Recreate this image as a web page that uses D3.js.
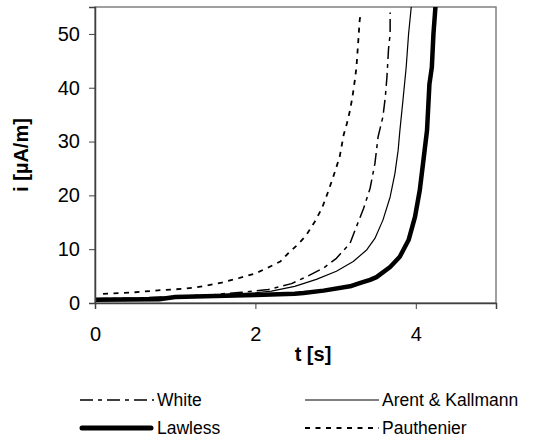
<!DOCTYPE html>
<html>
<head>
<meta charset="utf-8">
<script src="https://cdn.jsdelivr.net/npm/d3@7"></script>
<style>
body { margin: 0; background: #fff; }
text { font-family: "Liberation Sans", Arial, sans-serif; fill: #000; }
</style>
</head>
<body>
<script>
// series: t [s] and i [µA/m]
var tWhite = [0, 0.5, 1.0, 1.5, 1.83, 2.16, 2.45, 2.64, 2.85, 3.01, 3.18, 3.26, 3.35, 3.43, 3.49, 3.53, 3.59, 3.62, 3.64, 3.66, 3.68, 3.68];
var iWhite = [0.8, 0.9, 1.2, 1.6, 2.0, 2.5, 3.6, 4.9, 6.5, 8.3, 11.1, 14.2, 17.6, 21.3, 25.9, 30.9, 34.6, 38.3, 42, 47.2, 50, 54];

var tArent = [0, 0.5, 1.0, 1.5, 2.0, 2.2, 2.49, 2.76, 3.01, 3.22, 3.39, 3.49, 3.59, 3.68, 3.74, 3.78, 3.80, 3.84, 3.88, 3.91, 3.95];
var iArent = [0.8, 0.9, 1.2, 1.5, 1.9, 2.2, 3.1, 4.4, 5.9, 7.7, 9.9, 12.0, 15.4, 19.7, 24.1, 28.4, 31.8, 37.7, 43.8, 50, 56];

var tLawless = [0, 0.8, 1.0, 1.5, 2.0, 2.49, 2.6, 2.85, 3.18, 3.30, 3.43, 3.51, 3.68, 3.80, 3.91, 3.99, 4.05, 4.09, 4.14, 4.17, 4.20, 4.22, 4.25];
var iLawless = [0.6, 0.7, 1.1, 1.3, 1.5, 1.7, 1.85, 2.3, 3.1, 3.7, 4.3, 4.8, 6.7, 8.6, 11.7, 16.0, 21, 25.9, 32.1, 40.7, 43.8, 50, 56];

var tPauth = [0.1, 0.5, 0.83, 1.12, 1.35, 1.58, 1.79, 2.0, 2.16, 2.31, 2.40, 2.51, 2.63, 2.74, 2.83, 2.90, 2.97, 3.05, 3.10, 3.14, 3.18, 3.21, 3.24, 3.26, 3.28, 3.30, 3.31];
var iPauth = [1.7, 2.0, 2.4, 2.65, 3.1, 3.8, 4.6, 5.5, 6.6, 7.7, 9.1, 10.6, 12.5, 15.1, 17.6, 20.4, 23.4, 27.1, 31.2, 33.3, 35.8, 38.3, 41.4, 43.8, 48.1, 52.5, 53.5];

var xTicks = [0, 2, 4];
var yTicks = [0, 10, 20, 30, 40, 50];

var names = ["White", "Arent & Kallmann", "Lawless", "Pauthenier"];

function pairs(ts, vs) {
	return ts.map(function (t, k) { return {t: t, v: vs[k]}; });
}

var series = [
	{name: names[0], data: pairs(tWhite, iWhite), width: 1.5, dash: "13,5,4,5", cap: "butt"},
	{name: names[1], data: pairs(tArent, iArent), width: 1.2, dash: null, cap: "butt"},
	{name: names[2], data: pairs(tLawless, iLawless), width: 4.5, dash: null, cap: "round"},
	{name: names[3], data: pairs(tPauth, iPauth), width: 1.8, dash: "5,5.5", cap: "butt"}
];

var W = 533, H = 440;
var pLeft = 95, pRight = 496, pTop = 7, pBottom = 303;

var x = d3.scaleLinear().domain([0, 5]).range([pLeft, pRight]);
var y = d3.scaleLinear().domain([0, 55]).range([pBottom, pTop]);

var svg = d3.select("body").append("svg")
	.attr("width", W)
	.attr("height", H);

svg.append("clipPath").attr("id", "plot")
	.append("rect")
	.attr("x", pLeft).attr("y", pTop)
	.attr("width", pRight - pLeft).attr("height", pBottom - pTop);

// plot border (top/right grey)
svg.append("rect")
	.attr("x", pLeft).attr("y", pTop)
	.attr("width", pRight - pLeft).attr("height", pBottom - pTop)
	.attr("fill", "none")
	.attr("stroke", "#808080")
	.attr("stroke-width", 1.5);

var line = d3.line()
	.x(function (d) { return x(d.t); })
	.y(function (d) { return y(d.v); });

svg.append("g")
	.attr("clip-path", "url(#plot)")
	.selectAll("path")
	.data(series)
	.enter().append("path")
	.attr("d", function (d) { return line(d.data); })
	.attr("fill", "none")
	.attr("stroke", "#000")
	.attr("stroke-width", function (d) { return d.width; })
	.attr("stroke-dasharray", function (d) { return d.dash; })
	.attr("stroke-linejoin", "round");

// axes
var xAxis = svg.append("g")
	.attr("transform", "translate(0," + pBottom + ")")
	.call(d3.axisBottom(x).tickValues(xTicks).tickSize(6).tickPadding(18).tickFormat(d3.format("d")));

var yAxis = svg.append("g")
	.attr("transform", "translate(" + pLeft + ",0)")
	.call(d3.axisLeft(y).tickValues(yTicks).tickSize(6).tickPadding(9).tickFormat(d3.format("d")));

[xAxis, yAxis].forEach(function (g) {
	g.attr("font-size", 20).attr("font-family", "Liberation Sans, Arial, sans-serif");
	g.select(".domain").attr("stroke", "#404040").attr("stroke-width", 1.5);
	g.selectAll(".tick line").attr("stroke", "#404040").attr("stroke-width", 1);
	g.selectAll(".tick text").attr("fill", "#000");
});

svg.append("text")
	.attr("x", 313)
	.attr("y", 361)
	.attr("text-anchor", "middle")
	.attr("font-size", 20)
	.attr("font-weight", "bold")
	.text("t [s]");

svg.append("text")
	.attr("transform", "translate(28,155) rotate(-90)")
	.attr("text-anchor", "middle")
	.attr("font-size", 20)
	.attr("font-weight", "bold")
	.text("i [µA/m]");

// legend
var legendPos = [
	{x: 80, y: 400}, {x: 305, y: 400},
	{x: 80, y: 428}, {x: 305, y: 428}
];

var legend = svg.append("g")
	.selectAll("g")
	.data(series)
	.enter().append("g")
	.attr("transform", function (d, k) { return "translate(" + legendPos[k].x + "," + legendPos[k].y + ")"; });

legend.append("line")
	.attr("x1", function (d) { return d.cap === "round" ? 2 : 0; })
	.attr("x2", function (d) { return d.cap === "round" ? 71 : 74; })
	.attr("stroke", "#000")
	.attr("stroke-width", function (d) { return d.cap === "round" ? 5 : d.width; })
	.attr("stroke-linecap", function (d) { return d.cap; })
	.attr("stroke-dasharray", function (d) { return d.dash; });

legend.append("text")
	.attr("x", 77)
	.attr("y", 6)
	.attr("font-size", 17.5)
	.text(function (d) { return d.name; });
</script>
</body>
</html>
